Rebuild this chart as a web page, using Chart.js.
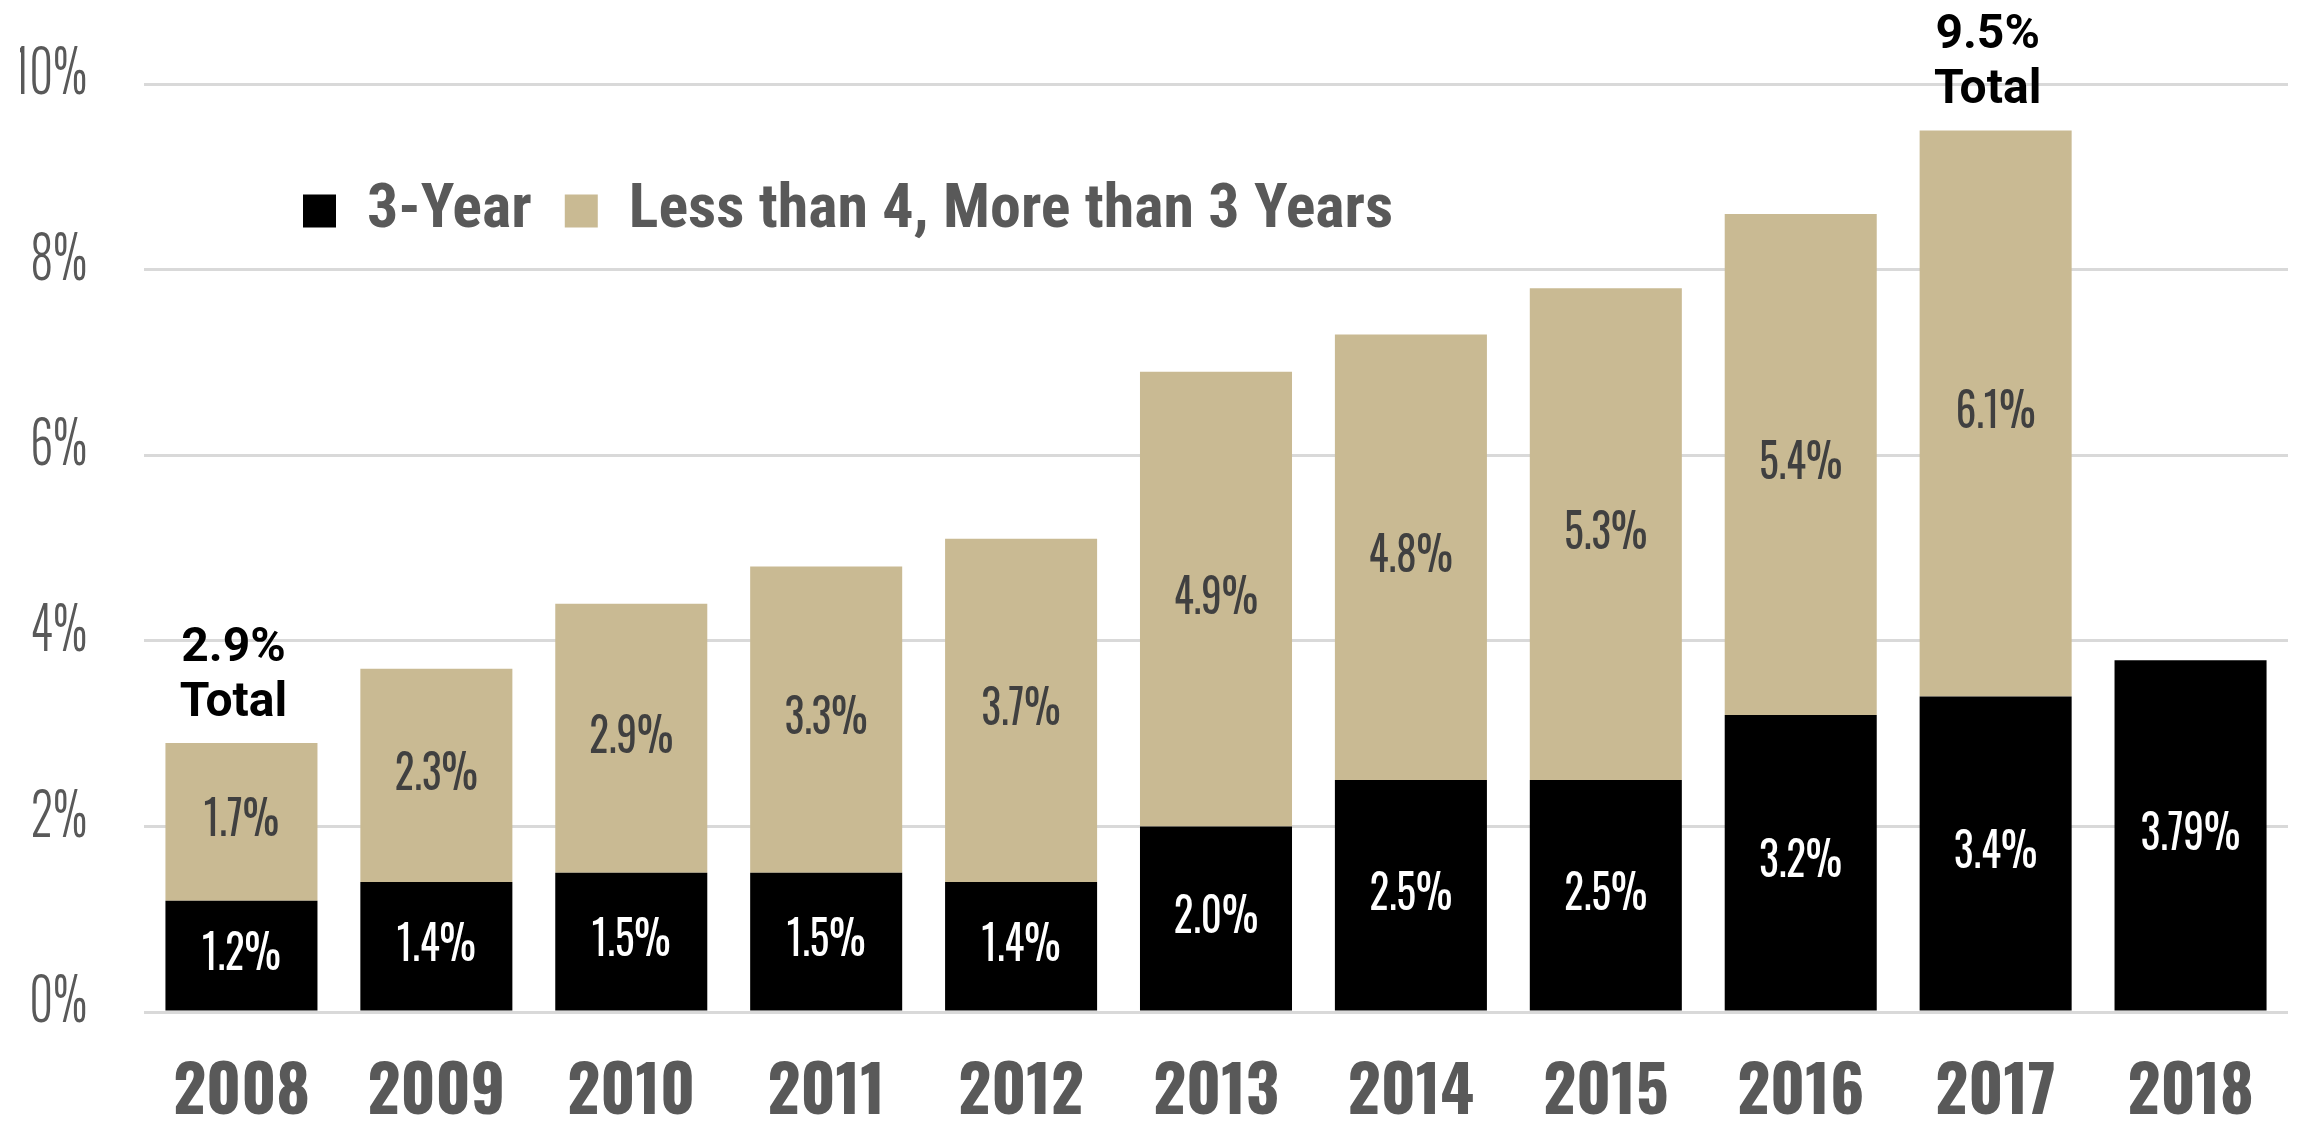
<!DOCTYPE html>
<html>
<head>
<meta charset="utf-8">
<title>3-Year and 3-4 Year share by year</title>
<script src="https://cdn.jsdelivr.net/npm/chart.js@4.4.1/dist/chart.umd.min.js"></script>
<style>
  html, body { margin: 0; padding: 0; background: #fff; }
  #wrap { position: relative; width: 2297px; height: 1125px; }
</style>
</head>
<body>
<div id="wrap"><canvas id="chart"></canvas></div>
<script>
// Data
const years = ['2008', '2009', '2010', '2011', '2012', '2013', '2014', '2015', '2016', '2017', '2018'];
const threeYear = [1.2, 1.4, 1.5, 1.5, 1.4, 2.0, 2.5, 2.5, 3.2, 3.4, 3.79];
const threeToFour = [1.7, 2.3, 2.9, 3.3, 3.7, 4.9, 4.8, 5.3, 5.4, 6.1, null];
const totals = [2.9, null, null, null, null, null, null, null, null, 9.5, null];
const seriesNames = ['3-Year', 'Less than 4, More than 3 Years'];

const GREY = '#595959';
const TAN = '#C9BA93';

/**
 * Format a value the way the labels show it (3.79% keeps two decimals)
 */
function fmt(v) {
  return v.toFixed(Math.round(v * 100) % 10 ? 2 : 1) + '%';
}

// Y tick labels in the reference are narrower than Oswald Light:
// squeeze them horizontally around their right edge
const squeezeTicks = {
  id: 'squeezeTicks',
  afterLayout(chart) {
    const y = chart.scales.y;
    if (y._squeezed) return;
    const orig = y.drawLabels;
    y.drawLabels = function (area) {
      const ctx = this.ctx;
      const ax = this.right - this.options.ticks.padding;
      ctx.save();
      ctx.translate(ax, 0);
      ctx.scale(0.77, 1);
      ctx.translate(-ax, 0);
      orig.call(this, area);
      ctx.restore();
    };
    y._squeezed = true;
  }
};

// Legend sits inside the plot, in one row below the 10% line
const placeLegend = {
  id: 'placeLegend',
  beforeLayout(chart) {
    // chartArea legends stack vertically by default; keep one row
    chart.legend.isHorizontal = () => true;
  },
  afterLayout(chart) {
    const lg = chart.legend;
    const area = chart.chartArea;
    const pad = lg.options.labels.padding;
    lg.left = area.left + 159 - pad;
    lg.top = area.top + 96 - pad;
    lg.right = area.right;
    lg.bottom = lg.top + lg.height;
  }
};

// Value labels inside the segments and the two "Total" call-outs
const barLabels = {
  id: 'barLabels',
  afterDatasetsDraw(chart) {
    const ctx = chart.ctx;
    ctx.save();
    ctx.textAlign = 'center';
    ctx.textBaseline = 'middle';
    ctx.font = '400 48px Oswald, sans-serif';
    chart.data.datasets.forEach((ds, di) => {
      const meta = chart.getDatasetMeta(di);
      ctx.fillStyle = di === 0 ? '#ffffff' : '#404040';
      meta.data.forEach((bar, i) => {
        const v = ds.data[i];
        if (v === null || v === undefined) return;
        const text = fmt(v);
        const w = ctx.measureText(text).width;
        ctx.fillText(text, bar.x, (bar.y + bar.base) / 2, w * 0.85);
      });
    });

    ctx.font = 'bold 48px Roboto, sans-serif';
    ctx.fillStyle = '#000000';
    ctx.textBaseline = 'alphabetic';
    const top = chart.getDatasetMeta(1);
    totals.forEach((t, i) => {
      if (t === null) return;
      const bar = top.data[i];
      ctx.fillText(t.toFixed(1) + '%', bar.x - 8, bar.y - 82);
      ctx.fillText('Total', bar.x - 8, bar.y - 27);
    });
    ctx.restore();
  }
};

const ctx = document.getElementById('chart');
new Chart(ctx.getContext('2d'), {
  type: 'bar',
  data: {
    labels: years,
    datasets: [{
      label: seriesNames[0],
      data: threeYear,
      backgroundColor: '#000000',
      borderWidth: 0,
      barPercentage: 0.78,
      categoryPercentage: 1.0
    }, {
      label: seriesNames[1],
      data: threeToFour,
      backgroundColor: TAN,
      borderWidth: 0,
      barPercentage: 0.78,
      categoryPercentage: 1.0
    }]
  },
  options: {
    responsive: true,
    maintainAspectRatio: false,
    devicePixelRatio: 1,
    animation: false,
    layout: {
      padding: { top: 84, right: 9, bottom: 0, left: 0 }
    },
    plugins: {
      legend: {
        position: 'chartArea',
        align: 'start',
        labels: {
          boxWidth: 33,
          boxHeight: 33,
          padding: 33,
          color: GREY,
          font: { family: "'Roboto Condensed', sans-serif", size: 62, weight: 'bold' }
        }
      },
      tooltip: { enabled: false }
    },
    scales: {
      x: {
        stacked: true,
        grid: { display: false },
        border: { display: false },
        ticks: {
          color: GREY,
          padding: 36,
          font: { family: 'Oswald, sans-serif', size: 64, weight: 700 }
        },
        afterFit: (scale) => { scale.height = 113; }
      },
      y: {
        stacked: true,
        min: 0,
        max: 10,
        grid: {
          color: '#d9d9d9',
          lineWidth: 3,
          drawTicks: false
        },
        border: { display: false },
        ticks: {
          stepSize: 2,
          color: GREY,
          padding: 57,
          labelOffset: -8,
          font: { family: 'Oswald, sans-serif', size: 60, weight: 300 },
          callback: (value) => value + '%'
        },
        afterFit: (scale) => {
          // fixed axis width; tick padding should not push the plot down
          scale.width = 144;
          scale.paddingTop = 0;
          scale.paddingBottom = 0;
        }
      }
    }
  },
  plugins: [squeezeTicks, placeLegend, barLabels]
});
</script>
</body>
</html>
